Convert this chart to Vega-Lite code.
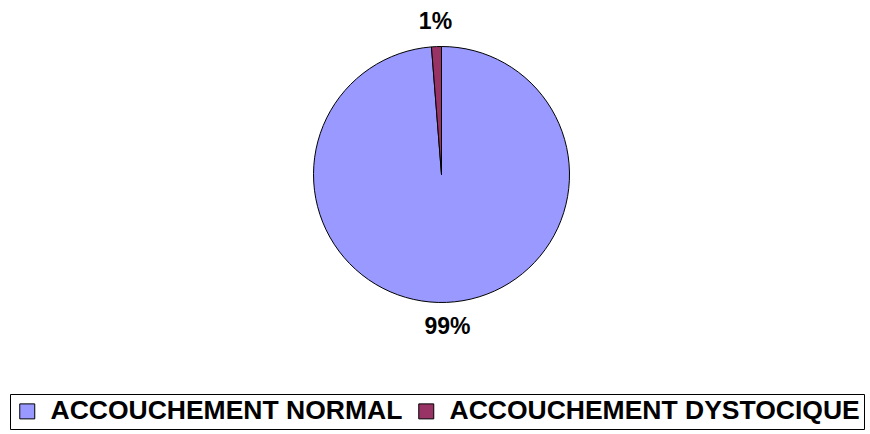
{
  "$schema": "https://vega.github.io/schema/vega-lite/v6.json",
  "width": 863,
  "height": 349,
  "padding": {"left": 10, "top": 0, "right": 0, "bottom": 85},
  "autosize": {"type": "none"},
  "background": "white",
  "config": {"view": {"stroke": null}, "font": "Liberation Sans"},
  "data": {
    "values": [
      {"type": "ACCOUCHEMENT NORMAL", "pct": 98.75, "label": "99%", "ord": 1},
      {"type": "ACCOUCHEMENT DYSTOCIQUE", "pct": 1.25, "label": "1%", "ord": 2}
    ]
  },
  "encoding": {
    "theta": {"field": "pct", "type": "quantitative", "stack": true},
    "order": {"field": "ord", "type": "quantitative", "sort": "ascending"}
  },
  "layer": [
    {
      "mark": {"type": "arc", "outerRadius": 128, "stroke": "black", "strokeWidth": 1},
      "encoding": {
        "color": {
          "field": "type",
          "type": "nominal",
          "sort": null,
          "scale": {"domain": ["ACCOUCHEMENT NORMAL", "ACCOUCHEMENT DYSTOCIQUE"], "range": ["#9999FF", "#993366"]},
          "legend": {
            "title": null,
            "orient": "none",
            "legendX": 0,
            "legendY": 394,
            "direction": "horizontal",
            "strokeColor": "black",
            "padding": 4,
            "symbolType": "square",
            "symbolSize": 225,
            "symbolStrokeColor": "black",
            "symbolStrokeWidth": 1,
            "labelFont": "Liberation Sans",
            "labelFontSize": 26.5,
            "labelFontWeight": "bold",
            "labelColor": "black",
            "labelOffset": 10,
            "columnPadding": 10,
            "labelLimit": 600
          }
        }
      }
    },
    {
      "mark": {"type": "text", "radius": 153, "font": "Liberation Sans", "fontSize": 23, "fontWeight": "bold", "color": "black", "baseline": "middle", "align": "center"},
      "encoding": {
        "text": {"field": "label", "type": "nominal"}
      }
    }
  ]
}
